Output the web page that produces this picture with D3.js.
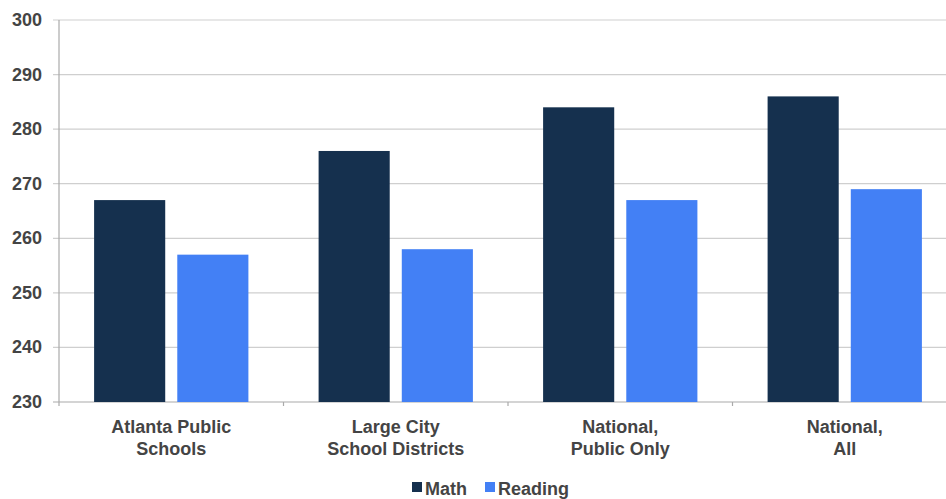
<!DOCTYPE html>
<html>
<head>
<meta charset="utf-8">
<script src="https://cdn.jsdelivr.net/npm/d3@7"></script>
<style>
  html, body { margin: 0; padding: 0; background: #fff; }
  svg { display: block; font-family: "Liberation Sans", Arial, sans-serif; }
</style>
</head>
<body>
<svg id="chart" width="946" height="499"></svg>
<script>
// Average scale scores by jurisdiction
const categories = [
  ["Atlanta Public", "Schools"],
  ["Large City", "School Districts"],
  ["National,", "Public Only"],
  ["National,", "All"]
];
const seriesNames = ["Math", "Reading"];
const mathScores = [267, 276, 284, 286];
const readingScores = [257, 258, 267, 269];
const yTicks = [230, 240, 250, 260, 270, 280, 290, 300];

const colors = { Math: "#15304e", Reading: "#4380f5" };
const textColor = "#444";

const svg = d3.select("#chart");
const plotLeft = 59, plotRight = 957, plotTop = 20, plotBottom = 402;

const catKeys = categories.map((c, i) => i);
const x0 = d3.scaleBand().domain(catKeys).range([plotLeft, plotRight]).paddingInner(0).paddingOuter(0);
const x1 = d3.scaleBand().domain(seriesNames).range([0, x0.bandwidth()])
  .paddingInner(0.145).paddingOuter(0.422);
const y = d3.scaleLinear().domain([230, 300]).range([plotBottom, plotTop]);

// horizontal gridlines
svg.append("g").selectAll("line").data(yTicks).join("line")
  .attr("x1", plotLeft - 6).attr("x2", 946)
  .attr("y1", d => y(d)).attr("y2", d => y(d))
  .attr("stroke", d => d === 230 ? "#aaa" : "#cfcfcf")
  .attr("stroke-width", 1.2);

// y tick labels
svg.append("g").selectAll("text").data(yTicks).join("text")
  .attr("x", 42).attr("y", d => y(d))
  .attr("text-anchor", "end").attr("dominant-baseline", "central")
  .attr("font-size", 18).attr("font-weight", "bold").attr("fill", textColor)
  .text(d => d);

// bars
const rows = catKeys.map(i => ({ i, Math: mathScores[i], Reading: readingScores[i] }));
const groups = svg.append("g").selectAll("g").data(rows).join("g")
  .attr("transform", d => `translate(${x0(d.i)},0)`);
groups.selectAll("rect").data(d => seriesNames.map(k => ({ k, v: d[k] }))).join("rect")
  .attr("x", d => x1(d.k)).attr("width", x1.bandwidth())
  .attr("y", d => y(d.v)).attr("height", d => y(230) - y(d.v))
  .attr("fill", d => colors[d.k]);

// axis lines and category ticks
svg.append("line").attr("x1", plotLeft).attr("x2", plotLeft).attr("y1", plotTop).attr("y2", plotBottom + 4)
  .attr("stroke", "#aaa").attr("stroke-width", 1.2);
svg.append("g").selectAll("line").data(catKeys.slice(1)).join("line")
  .attr("x1", d => x0(d)).attr("x2", d => x0(d))
  .attr("y1", plotBottom).attr("y2", plotBottom + 4)
  .attr("stroke", "#aaa").attr("stroke-width", 1.2);

// category labels
const labels = svg.append("g").selectAll("text").data(catKeys).join("text")
  .attr("x", d => x0(d) + x0.bandwidth() / 2).attr("y", 433)
  .attr("text-anchor", "middle")
  .attr("font-size", 18).attr("font-weight", "bold").attr("fill", textColor);
labels.selectAll("tspan").data(d => categories[d]).join("tspan")
  .attr("x", function() { return d3.select(this.parentNode).attr("x"); })
  .attr("dy", (d, j) => j === 0 ? 0 : 21.5)
  .text(d => d);

// legend
const legendItems = [{ k: "Math", sx: 412, tx: 425 }, { k: "Reading", sx: 485, tx: 498 }];
const legend = svg.append("g");
legend.selectAll("rect").data(legendItems).join("rect")
  .attr("x", d => d.sx).attr("y", 482).attr("width", 10).attr("height", 10)
  .attr("fill", d => colors[d.k]);
legend.selectAll("text").data(legendItems).join("text")
  .attr("x", d => d.tx).attr("y", 489).attr("dominant-baseline", "central")
  .attr("font-size", 18).attr("font-weight", "bold").attr("fill", textColor)
  .text(d => d.k);
</script>
</body>
</html>
